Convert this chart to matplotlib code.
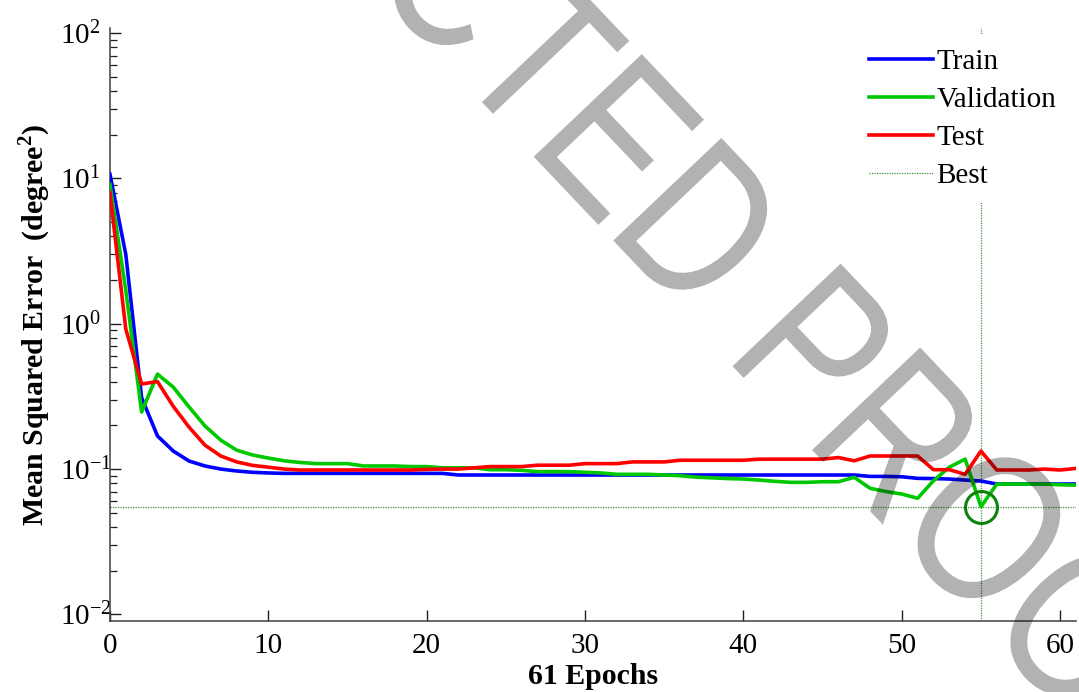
"""
Performance curve (MSE per epoch) for network training,
with train / validation / test errors and the best validation epoch.
"""

import matplotlib
matplotlib.use('Agg')  # no GUI backend
import matplotlib.pyplot as plt
import numpy as np
from matplotlib.ticker import LogLocator, NullFormatter, FixedLocator
from matplotlib.textpath import TextPath
from matplotlib.font_manager import FontProperties
from matplotlib.patches import PathPatch
from matplotlib.transforms import Affine2D

plt.rcParams['font.family'] = 'Liberation Serif'
plt.rcParams['mathtext.fontset'] = 'custom'
plt.rcParams['mathtext.rm'] = 'Liberation Serif'
plt.rcParams['mathtext.bf'] = 'Liberation Serif:bold'
plt.rcParams['axes.unicode_minus'] = False

# Errors per epoch (epochs 0..61)
train_mse = [10.7, 3.0, 0.31, 0.169, 0.133, 0.1135, 0.105, 0.100, 0.097, 0.095,
             0.094, 0.0934, 0.0934, 0.0934, 0.0934, 0.0934, 0.0934, 0.0934, 0.0934, 0.0934,
             0.0934, 0.0934, 0.091, 0.091, 0.091, 0.091, 0.091, 0.091, 0.091, 0.091,
             0.091, 0.091, 0.091, 0.091, 0.091, 0.091, 0.091, 0.091, 0.091, 0.091,
             0.091, 0.091, 0.091, 0.091, 0.091, 0.091, 0.091, 0.091, 0.089, 0.089,
             0.0885, 0.0863, 0.086, 0.0854, 0.084, 0.0827, 0.0789, 0.0789, 0.0789, 0.0789,
             0.0789, 0.0789]

validation_mse = [9.1, 1.7, 0.247, 0.45, 0.366, 0.267, 0.198, 0.158, 0.135, 0.125,
                  0.119, 0.114, 0.111, 0.109, 0.109, 0.109, 0.105, 0.105, 0.105, 0.104,
                  0.104, 0.102, 0.102, 0.102, 0.099, 0.099, 0.098, 0.096, 0.096, 0.096,
                  0.095, 0.094, 0.092, 0.092, 0.092, 0.091, 0.090, 0.088, 0.087, 0.086,
                  0.0854, 0.084, 0.0823, 0.081, 0.081, 0.0818, 0.0818, 0.0877, 0.0737, 0.070,
                  0.0673, 0.063, 0.083, 0.103, 0.117, 0.0551, 0.0788, 0.0788, 0.0788, 0.0788,
                  0.078, 0.0775]

test_mse = [8.0, 0.92, 0.385, 0.40, 0.27, 0.194, 0.146, 0.123, 0.112, 0.106,
            0.103, 0.100, 0.0985, 0.0985, 0.0985, 0.0985, 0.0985, 0.0985, 0.0985, 0.0985,
            0.0995, 0.100, 0.100, 0.102, 0.104, 0.104, 0.104, 0.1063, 0.1063, 0.1063,
            0.109, 0.109, 0.109, 0.112, 0.112, 0.112, 0.115, 0.115, 0.115, 0.115,
            0.115, 0.117, 0.117, 0.117, 0.117, 0.117, 0.120, 0.114, 0.123, 0.123,
            0.123, 0.123, 0.099, 0.099, 0.092, 0.133, 0.0985, 0.0985, 0.0985, 0.100,
            0.0985, 0.101]

epochs = np.arange(len(train_mse))
best_epoch = 55
best_mse = validation_mse[best_epoch]

x_ticks = [0, 10, 20, 30, 40, 50, 60]
y_ticks = [0.01, 0.1, 1, 10, 100]

W, H = 1079, 692
fig = plt.figure(figsize=(W / 100, H / 100), dpi=100)
ax = fig.add_axes([0.1019, 0.1030, 0.8953, 0.8561])

ax.plot(epochs, train_mse, color='#0000ff', linewidth=2.6, label='Train', zorder=3)
ax.plot(epochs, validation_mse, color='#00c800', linewidth=2.6, label='Validation', zorder=3)
ax.plot(epochs, test_mse, color='#ff0000', linewidth=2.6, label='Test', zorder=3)

# best epoch markers
ax.axvline(best_epoch, color='#3c963c', linewidth=0.9, linestyle=(0, (1, 1)), label='Best', zorder=2)
ax.axhline(best_mse, color='#3c963c', linewidth=0.9, linestyle=(0, (1, 1)), zorder=2)
ax.plot([best_epoch], [best_mse], marker='o', markersize=23, markerfacecolor='none',
        markeredgecolor='#0e820e', markeredgewidth=2.2, zorder=4)

ax.set_yscale('log')
ax.set_xlim(0, 61)
ax.set_ylim(0.00904, 108)

ax.xaxis.set_major_locator(FixedLocator(x_ticks))
ax.yaxis.set_major_locator(FixedLocator(y_ticks))
ax.yaxis.set_minor_locator(LogLocator(base=10, subs=np.arange(2, 10), numticks=20))
ax.yaxis.set_minor_formatter(NullFormatter())

for side in ['top', 'right']:
    ax.spines[side].set_visible(False)
for side in ['left', 'bottom']:
    ax.spines[side].set_color('#404040')
    ax.spines[side].set_linewidth(1.1)

ax.tick_params(which='both', direction='in', colors='#202020', labelcolor='black')
ax.tick_params(axis='both', which='major', length=8, width=1.0, labelsize=21)
ax.tick_params(axis='x', which='major', pad=9)
# the "10" bases line up on the left, exponents run to the right
ax.tick_params(axis='y', which='major', pad=36)
ax.tick_params(axis='y', which='minor', length=5, width=0.9)
plt.setp(ax.yaxis.get_majorticklabels(), ha='left')

ax.set_xlabel('61 Epochs', fontsize=21.5, fontweight='bold', labelpad=3)
ax.set_ylabel(r'Mean Squared Error  (degree$^{\mathbf{2}}$)', fontsize=21.5,
              fontweight='bold', labelpad=5)

leg = ax.legend(loc='upper left', bbox_to_anchor=(855 / W, 1 - 35 / H),
                bbox_transform=fig.transFigure, fontsize=21, frameon=True,
                fancybox=False, edgecolor='none', facecolor='white', framealpha=1,
                handlelength=2.2, handletextpad=0.13, labelspacing=0.4,
                borderpad=0.47, borderaxespad=0)
leg.set_zorder(6)

# watermark, drawn in pixel space over the figure
prop = FontProperties(family='Liberation Sans')
wm = 'UNCORRECTED PROOF'
wm_path = TextPath((0, 0), wm, size=1, prop=prop)
e_box = TextPath((0, 0), 'E', size=1, prop=prop).get_extents()
e_left = TextPath((0, 0), 'UNCORRECTE', size=1, prop=prop).get_extents().x1 - e_box.width
em = 149 / e_box.height
wm_tr = (Affine2D().translate(-e_left, 0).scale(0.80 * em, em)
         .rotate_deg(-46.5).translate(533.7, H - 156.7))
wm_patch = PathPatch(wm_path, transform=wm_tr, facecolor='black', edgecolor='none',
                     alpha=0.3, zorder=10)
fig.add_artist(wm_patch)

fig.savefig('out.png', dpi=100, facecolor='white')
